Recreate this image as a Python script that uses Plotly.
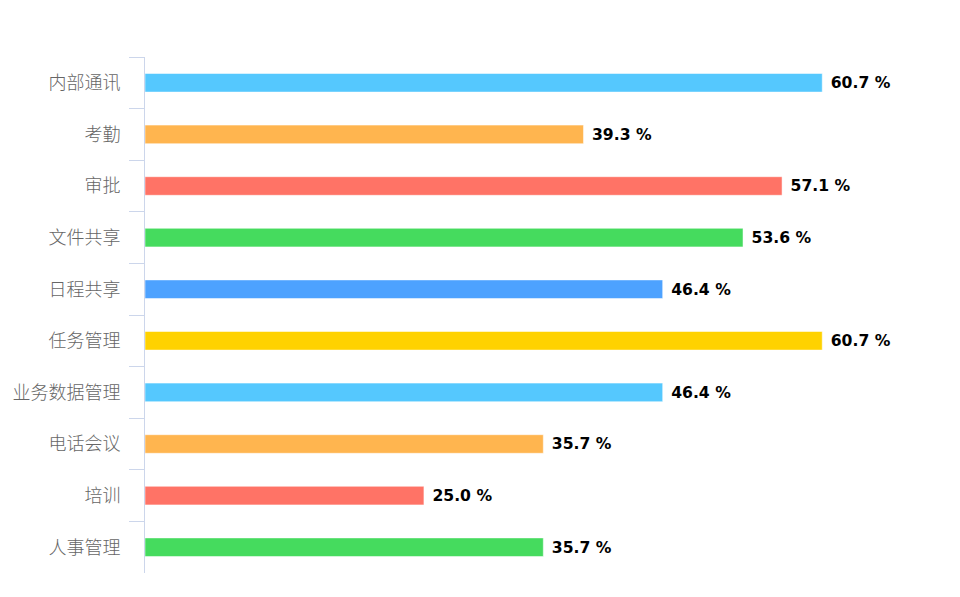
import plotly.graph_objects as go

categories = ["内部通讯", "考勤", "审批", "文件共享", "日程共享", "任务管理", "业务数据管理", "电话会议", "培训", "人事管理"]
values = [60.7, 39.3, 57.1, 53.6, 46.4, 60.7, 46.4, 35.7, 25.0, 35.7]
palette = ["#55C8FE", "#FFB54F", "#FF7366", "#45DB5E", "#4DA2FF", "#FFD200"]
colors = [palette[i % len(palette)] for i in range(len(categories))]
labels = [f"{v:.1f} %" for v in values]

fig = go.Figure(go.Bar(
    y=categories, x=values, orientation="h",
    marker=dict(color=colors, line=dict(color="rgba(255,255,255,0.5)", width=1)),
    width=0.36,
    text=labels, textposition="outside",
    texttemplate=" %{text}",
    textfont=dict(family="DejaVu Sans", size=16, color="#000000", weight="bold"),
    cliponaxis=False,
    hoverinfo="skip",
))

fig.update_layout(
    width=960, height=597,
    margin=dict(l=137, r=42, t=49, b=32, autoexpand=False),
    paper_bgcolor="white", plot_bgcolor="white",
    showlegend=False,
    xaxis=dict(range=[0, 70], visible=False, fixedrange=True, automargin=False),
    yaxis=dict(
        autorange="reversed", automargin=False,
        categoryorder="array", categoryarray=categories,
        showline=True, linecolor="#CCD6EB", linewidth=1,
        ticks="outside", tickson="boundaries", ticklen=15, tickcolor="#CCD6EB",
        tickfont=dict(family="Noto Sans CJK SC", size=18, color="#666666", weight=300),
        showgrid=False, zeroline=False, ticklabelstandoff=20,
    ),
)

fig.write_html("out.html")
